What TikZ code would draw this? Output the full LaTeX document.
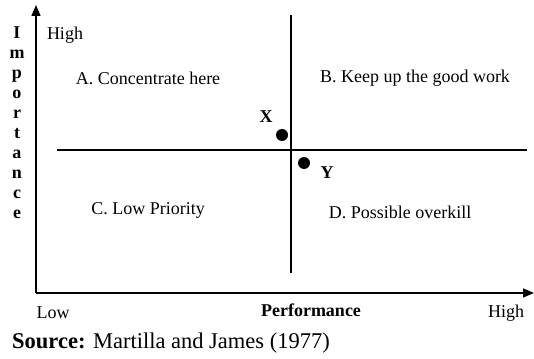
\documentclass[tikz,border=0pt]{standalone}
\usepackage{fontspec}
\setmainfont{Liberation Serif}
\usetikzlibrary{arrows.meta}
\begin{document}
\begin{tikzpicture}[x=1pt,y=-1pt,
  lbl/.style={font=\fontsize{18}{20}\selectfont, inner sep=0pt},
  blbl/.style={font=\bfseries\fontsize{18}{20}\selectfont, inner sep=0pt},
  axis/.style={line width=1.3pt, -{Triangle[length=11pt,width=9pt]}},
  divider/.style={line width=1.1pt},
  dot/.style={circle, fill=black, minimum size=12pt, inner sep=0pt}]
\useasboundingbox (0,0) rectangle (534,358);
\coordinate (o) at (36,293);
\coordinate (ytop) at (36,5);
\coordinate (xend) at (534,293);
\draw[axis] (o) -- (ytop);
\draw[axis] (o) -- (xend);
\coordinate (vt) at (291,15);
\coordinate (vb) at (291,273);
\coordinate (hl) at (57,150);
\coordinate (hr) at (527,150);
\draw[divider] (vt) -- (vb);
\draw[divider] (hl) -- (hr);
\node[dot] (X) at (282,135) {};
\node[dot] (Y) at (304,163) {};
\node[blbl] (xl) at (266,117) {X};
\node[blbl] (yl) at (327,173) {Y};
\node[lbl] (hightop) at (65,35) {High};
\node[lbl] (A) at (148,78) {A. Concentrate here};
\node[lbl] (B) at (415,78) {B. Keep up the good work};
\node[lbl] (C) at (148,210) {C. Low Priority};
\node[lbl] (D) at (400,212) {D. Possible overkill};
\node[lbl] (low) at (53,313) {Low};
\node[blbl] (perf) at (311,310) {Performance};
\node[lbl] (highr) at (506,313) {High};
\foreach \c [count=\i from 0] in {I,m,p,o,r,t,a,n,c,e}
  \node[blbl, anchor=base] (imp\i) at (17,{39+\i*19.9}) {\c};
\node[font=\fontsize{22.5}{24}\selectfont, inner sep=0pt, anchor=west] (src) at (12,343) {\textbf{Source:} Martilla and James (1977)};
\end{tikzpicture}
\end{document}
